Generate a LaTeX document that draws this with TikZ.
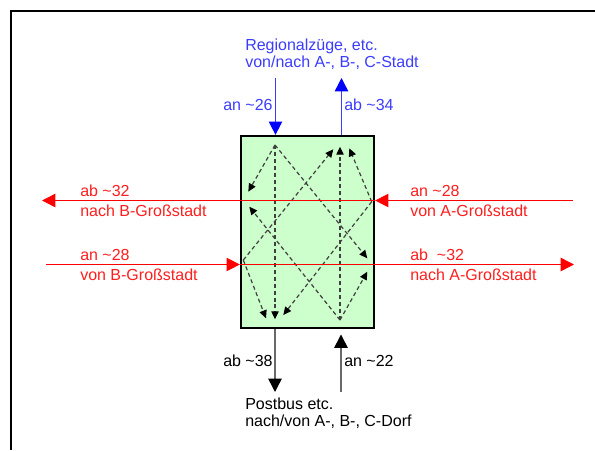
\documentclass[tikz,border=0pt]{standalone}
\usepackage{fontspec}
\setmainfont{Liberation Sans}
\usetikzlibrary{arrows.meta}
\definecolor{hubgreen}{RGB}{204, 255, 204}
\definecolor{regblue}{RGB}{60, 60, 255}
\definecolor{fernred}{RGB}{255, 30, 30}
\definecolor{busgrey}{RGB}{105, 105, 105}

\begin{document}
\begin{tikzpicture}[x=0.75pt, y=-0.75pt,
    hubbox/.style={draw, line width=1.7pt, fill=hubgreen, minimum width=99.75pt,
                   minimum height=144pt, inner sep=0pt},
    lbl/.style={font=\fontsize{12}{13}\selectfont, inner sep=0pt, anchor=base west, align=left},
    bigtip/.style={-{Triangle[length=10pt, width=10pt, color=#1]}},
    regline/.style={draw=regblue, line width=1.1pt, bigtip=blue},
    fernline/.style={draw=red, line width=1.1pt, bigtip=red},
    busline/.style={draw=busgrey, line width=1.1pt, bigtip=black},
    umstieg/.style={draw=black!75, line width=0.9pt, dash pattern=on 3pt off 2.2pt,
                    -{Triangle[length=6pt, width=5.5pt, color=black]}},
]
    \useasboundingbox (0,0) rectangle (595,450);
    \draw[line width=2.2pt] (11,450) -- (11,11) -- (595,11);

    % Bahnhof
    \node[hubbox] (hub) at (307.5,232) {};

    % Umsteigebeziehungen
    \coordinate (vonReg) at (275,145);
    \coordinate (vonA) at (371.7,201.7);
    \coordinate (vonB) at (243.3,260);
    \coordinate (vonBus) at (340,320);
    \coordinate (nachB1) at (248.3,191.7);
    \coordinate (nachB2) at (249.3,206.7);
    \coordinate (nachA1) at (367.3,258.3);
    \coordinate (nachA2) at (367.3,271.7);
    \coordinate (nachReg1) at (349.3,148.3);
    \coordinate (nachReg2) at (340,146.7);
    \coordinate (nachReg3) at (333.3,149.3);
    \coordinate (nachBus1) at (266,318.3);
    \coordinate (nachBus2) at (275,319.3);
    \coordinate (nachBus3) at (283.3,315);

    \draw[umstieg] (vonReg) -- (nachB1);
    \draw[umstieg] (vonReg) -- (nachBus2);
    \draw[umstieg] (vonReg) -- (nachA1);
    \draw[umstieg] (vonA) -- (nachReg1);
    \draw[umstieg] (vonA) -- (nachBus3);
    \draw[umstieg] (vonB) -- (nachReg3);
    \draw[umstieg] (vonB) -- (nachBus1);
    \draw[umstieg] (vonBus) -- (nachReg2);
    \draw[umstieg] (vonBus) -- (nachB2);
    \draw[umstieg] (vonBus) -- (nachA2);

    % Regionalzuege
    \coordinate (regIn) at (275.5,78);
    \coordinate (regOut) at (341.5,78);
    \draw[regline] (regIn) -- (regIn |- hub.north);
    \draw[regline] (regOut |- hub.north) -- (regOut);
    \node[lbl, text=regblue] (regText) at (245,67.7)
        {Regionalzüge, etc.\\von/nach A-, B-, C-Stadt};
    \node[lbl, text=regblue] (regAn) at (223,110.7) {an \textasciitilde 26};
    \node[lbl, text=regblue] (regAb) at (344,110.7) {ab \textasciitilde 34};

    % Fernverkehr
    \coordinate (aIn) at (573,200.5);
    \coordinate (bOut) at (42,200.5);
    \coordinate (bIn) at (46,264.5);
    \coordinate (aOut) at (574,264.5);
    \draw[fernline] (aIn) -- (hub.east |- aIn);
    \draw[fernline] (hub.east |- aIn) -- (bOut);
    \draw[fernline] (bIn) -- (hub.west |- bIn);
    \draw[fernline] (hub.west |- bIn) -- (aOut);
    \node[lbl, text=fernred] (bAb) at (80,196.7) {ab \textasciitilde 32};
    \node[lbl, text=fernred] (bNach) at (80,216.7) {nach B-Großstadt};
    \node[lbl, text=fernred] (bAn) at (80,260.7) {an \textasciitilde 28};
    \node[lbl, text=fernred] (bVon) at (80,280.7) {von B-Großstadt};
    \node[lbl, text=fernred] (aAn) at (410,196.7) {an \textasciitilde 28};
    \node[lbl, text=fernred] (aVon) at (410,216.7) {von A-Großstadt};
    \node[lbl, text=fernred] (aAb) at (410,260.7) {ab\ \ \textasciitilde 32};
    \node[lbl, text=fernred] (aNach) at (410,280.7) {nach A-Großstadt};

    % Postbus
    \coordinate (busOut) at (275,392);
    \coordinate (busIn) at (341,392);
    \draw[busline] (busOut |- hub.south) -- (busOut);
    \draw[busline] (busIn) -- ([yshift=-4pt]busIn |- hub.south);
    \node[lbl] (busAb) at (223,366) {ab \textasciitilde 38};
    \node[lbl] (busAn) at (344,366) {an \textasciitilde 22};
    \node[lbl] (busText) at (245,426.7) {Postbus etc.\\nach/von A-, B-, C-Dorf};
\end{tikzpicture}
\end{document}
